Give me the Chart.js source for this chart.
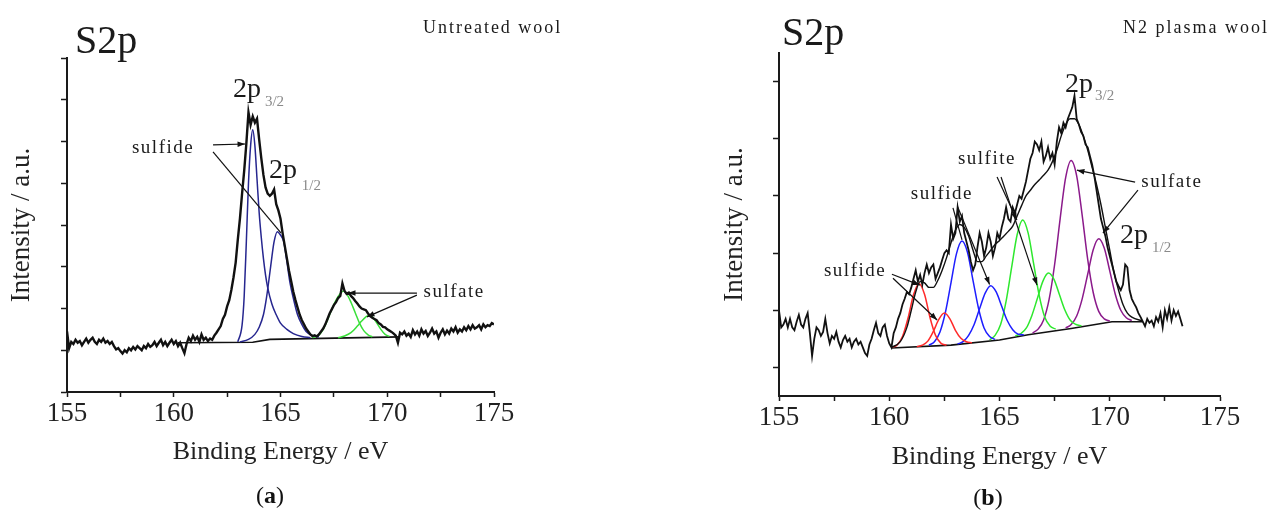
<!DOCTYPE html>
<html>
<head>
<meta charset="utf-8">
<script src="https://cdn.jsdelivr.net/npm/chart.js@4.4.0/dist/chart.umd.min.js"></script>
<style>
  html, body { margin: 0; padding: 0; background: #fff; }
  body { width: 1279px; height: 511px; position: relative; overflow: hidden; font-family: "Liberation Serif", "Times New Roman", serif; }
  canvas { position: absolute; top: 0; }
  #chartA { left: 0; }
  #chartB { left: 640px; }
  .caption { position: absolute; width: 80px; text-align: center; font-size: 24px; line-height: 26px; color: #111; }
</style>
</head>
<body>
<canvas id="chartA" width="640" height="511"></canvas>
<canvas id="chartB" width="639" height="511"></canvas>
<div class="caption" style="left:230px; top:482px;">(<b>a</b>)</div>
<div class="caption" style="left:948px; top:484px;">(<b>b</b>)</div>
<script>
// ---- (a) untreated wool, S2p ----
const energyA = [
  155.0,155.1,155.2,155.3,155.4,155.5,155.6,155.7,155.8,155.9,
  156.0,156.1,156.2,156.3,156.4,156.5,156.6,156.7,156.8,156.9,
  157.0,157.1,157.2,157.3,157.4,157.5,157.6,157.7,157.8,157.9,
  158.0,158.1,158.2,158.3,158.4,158.5,158.6,158.7,158.8,158.9,
  159.0,159.1,159.2,159.3,159.4,159.5,159.6,159.7,159.8,159.9,
  160.0,160.1,160.2,160.3,160.4,160.5,160.6,160.7,160.8,160.9,
  161.0,161.1,161.2,161.3,161.4,161.5,161.6,161.7,161.8,161.9,
  162.0,162.1,162.2,162.3,162.4,162.5,162.6,162.7,162.8,162.9,
  163.0,163.1,163.2,163.3,163.4,163.5,163.6,163.7,163.8,163.9,
  164.0,164.1,164.2,164.3,164.4,164.5,164.6,164.7,164.8,164.9,
  165.0,165.1,165.2,165.3,165.4,165.5,165.6,165.7,165.8,165.9,
  166.0,166.1,166.2,166.3,166.4,166.5,166.6,166.7,166.8,166.9,
  167.0,167.1,167.2,167.3,167.4,167.5,167.6,167.7,167.8,167.9,
  168.0,168.1,168.2,168.3,168.4,168.5,168.6,168.7,168.8,168.9,
  169.0,169.1,169.2,169.3,169.4,169.5,169.6,169.7,169.8,169.9,
  170.0,170.1,170.2,170.3,170.4,170.5,170.6,170.7,170.8,170.9,
  171.0,171.1,171.2,171.3,171.4,171.5,171.6,171.7,171.8,171.9,
  172.0,172.1,172.2,172.3,172.4,172.5,172.6,172.7,172.8,172.9,
  173.0,173.1,173.2,173.3,173.4,173.5,173.6,173.7,173.8,173.9,
  174.0,174.1,174.2,174.3,174.4,174.5,174.6,174.7,174.8,174.9,
  175.0
];
const rawA = [
  1.45,1.05,1.2,1.15,1.25,1.18,1.22,1.12,1.2,1.28,
  1.18,1.25,1.3,1.2,1.15,1.25,1.2,1.28,1.18,1.22,
  1.15,1.2,1.1,1.02,1.05,0.98,0.92,1.0,0.95,1.05,
  1.0,1.08,1.02,1.1,1.05,1.0,1.1,1.05,1.15,1.08,
  1.12,1.2,1.1,1.18,1.25,1.12,1.2,1.1,1.18,1.25,
  1.15,1.22,1.1,1.18,1.05,0.93,1.15,1.3,1.22,1.35,
  1.25,1.32,1.2,1.38,1.25,1.3,1.22,1.28,1.25,1.35,
  1.42,1.5,1.58,1.75,1.85,2.05,2.2,2.45,2.75,3.1,
  3.65,4.15,4.75,5.3,5.95,6.7,6.4,6.6,6.45,6.55,
  6.05,5.6,5.2,4.9,4.75,4.7,4.75,4.85,4.5,4.35,
  4.15,3.8,3.5,3.2,2.9,2.65,2.4,2.2,2.02,1.85,
  1.72,1.62,1.52,1.45,1.38,1.34,1.36,1.33,1.38,1.45,
  1.52,1.62,1.75,1.88,1.98,2.08,2.15,2.25,2.3,2.6,
  2.42,2.35,2.38,2.3,2.25,2.18,2.12,2.05,2.0,1.98,
  1.96,1.88,1.82,1.78,1.75,1.72,1.65,1.62,1.56,1.55,
  1.5,1.47,1.44,1.4,1.35,1.18,1.42,1.38,1.45,1.35,
  1.4,1.32,1.48,1.38,1.45,1.35,1.5,1.4,1.46,1.34,
  1.42,1.52,1.4,1.45,1.3,1.42,1.5,1.38,1.47,1.4,
  1.52,1.45,1.55,1.42,1.5,1.45,1.55,1.48,1.58,1.5,
  1.6,1.52,1.55,1.6,1.5,1.62,1.55,1.6,1.58,1.65,
  1.62
];
const sulfideA1E = [163.0,163.2,163.3,163.4,163.5,163.6,163.7,163.8,163.9,164.0,164.1,164.2,164.3,164.4,164.6,164.8,165.0,165.3,165.6,166.0,166.4];
const sulfideA1 = [1.2,1.6,2.3,3.6,5.0,5.9,6.28,5.9,5.1,4.3,3.7,3.2,2.8,2.5,2.1,1.85,1.65,1.5,1.4,1.33,1.3];
const sulfideA2E = [163.1,163.5,163.8,164.0,164.2,164.35,164.5,164.6,164.7,164.85,165.0,165.15,165.3,165.45,165.6,165.8,166.0,166.2,166.5,166.8];
const sulfideA2 = [1.2,1.26,1.38,1.55,1.85,2.28,2.85,3.25,3.6,3.84,3.76,3.6,3.12,2.6,2.25,1.85,1.62,1.45,1.35,1.32];
const sulfateA1E = [166.5,166.8,167.0,167.2,167.4,167.6,167.8,167.95,168.1,168.3,168.5,168.7,168.9,169.1,169.3];
const sulfateA1 = [1.3,1.36,1.5,1.72,1.98,2.2,2.36,2.42,2.35,2.15,1.9,1.65,1.47,1.37,1.32];
const sulfateA2E = [167.7,168.0,168.3,168.6,168.8,169.0,169.15,169.3,169.5,169.7,169.9,170.1];
const sulfateA2 = [1.3,1.34,1.42,1.58,1.7,1.8,1.84,1.8,1.66,1.5,1.38,1.33];
const baselineAE = [160.2,163.7,164.5,170.6];
const baselineA = [1.18,1.19,1.26,1.32];

// ---- (b) N2 plasma wool, S2p ----
const energyB = [
  155.0,155.1,155.2,155.3,155.4,155.5,155.6,155.7,155.8,155.9,
  156.0,156.1,156.2,156.3,156.4,156.5,156.6,156.7,156.8,156.9,
  157.0,157.1,157.2,157.3,157.4,157.5,157.6,157.7,157.8,157.9,
  158.0,158.1,158.2,158.3,158.4,158.5,158.6,158.7,158.8,158.9,
  159.0,159.1,159.2,159.3,159.4,159.5,159.6,159.7,159.8,159.9,
  160.0,160.1,160.2,160.3,160.4,160.5,160.6,160.7,160.8,160.9,
  161.0,161.1,161.2,161.3,161.4,161.5,161.6,161.7,161.8,161.9,
  162.0,162.1,162.2,162.3,162.4,162.5,162.6,162.7,162.8,162.9,
  163.0,163.1,163.2,163.3,163.4,163.5,163.6,163.7,163.8,163.9,
  164.0,164.1,164.2,164.3,164.4,164.5,164.6,164.7,164.8,164.9,
  165.0,165.1,165.2,165.3,165.4,165.5,165.6,165.7,165.8,165.9,
  166.0,166.1,166.2,166.3,166.4,166.5,166.6,166.7,166.8,166.9,
  167.0,167.1,167.2,167.3,167.4,167.5,167.6,167.7,167.8,167.9,
  168.0,168.1,168.2,168.3,168.4,168.5,168.6,168.7,168.8,168.9,
  169.0,169.1,169.2,169.3,169.4,169.5,169.6,169.7,169.8,169.9,
  170.0,170.1,170.2,170.3,170.4,170.5,170.6,170.7,170.8,170.9,
  171.0,171.1,171.2,171.3,171.4,171.5,171.6,171.7,171.8,171.9,
  172.0,172.1,172.2,172.3,172.4,172.5,172.6,172.7,172.8,172.9,
  173.0,173.1,173.2,173.3
];
const rawB = [
  1.5,1.2,1.25,1.35,1.2,1.35,1.2,1.15,1.3,1.42,
  1.25,1.2,1.35,1.45,1.1,0.7,1.0,1.2,1.15,1.05,
  1.12,1.35,1.1,0.92,1.05,1.0,1.12,0.95,0.85,0.98,
  1.05,0.95,1.0,0.85,0.95,1.0,0.9,0.95,0.85,0.75,
  0.7,0.9,1.0,1.15,1.28,1.1,1.05,1.2,1.25,1.05,
  0.92,0.85,1.1,1.2,1.35,1.45,1.6,1.7,1.82,1.78,
  1.9,2.05,2.2,2.0,2.12,1.95,2.15,2.3,2.15,2.25,
  2.3,2.05,2.15,2.25,2.38,2.5,2.55,2.5,3.0,2.75,
  2.85,3.3,3.05,3.15,2.85,2.7,2.55,2.35,2.2,2.3,
  2.6,2.85,2.7,2.45,2.6,2.85,2.7,2.45,2.6,2.85,
  2.75,2.95,3.1,3.3,3.1,3.05,3.3,3.2,3.35,3.5,
  3.45,3.6,3.75,3.95,4.15,4.25,4.45,4.4,4.3,4.45,
  4.1,4.2,4.35,4.15,4.25,4.05,4.45,4.7,4.6,4.78,
  4.7,4.85,4.95,5.05,5.25,4.85,4.75,4.62,4.55,4.4,
  4.35,4.2,4.05,3.85,3.6,3.35,3.1,2.95,2.8,2.6,
  2.45,2.3,2.15,2.0,1.92,1.85,1.95,2.3,2.25,1.85,
  1.7,1.62,1.55,1.45,1.38,1.3,1.22,1.35,1.28,1.32,
  1.22,1.38,1.3,1.45,1.2,1.5,1.35,1.55,1.32,1.5,
  1.4,1.48,1.35,1.22
];
const envelopeBE = [160.1,160.5,160.8,161.0,
  161.2,161.4,161.6,161.8,162.0,162.2,162.4,162.6,162.8,163.0,
  163.2,163.4,163.6,163.8,164.0,164.2,164.4,164.6,164.8,165.0,
  165.2,165.4,165.6,165.8,166.0,166.2,166.4,166.6,166.8,167.0,
  167.2,167.4,167.6,167.8,168.0,168.2,168.4,168.6,168.8,169.0,
  169.2,169.4,169.6,169.8,170.0,170.2,170.4,170.6,170.8,171.0,
  171.5];
const envelopeB = [0.85,0.95,1.2,1.5,
  1.82,2.0,1.98,1.9,1.9,2.02,2.2,2.42,2.68,2.9,
  3.0,2.95,2.8,2.55,2.35,2.35,2.45,2.55,2.65,2.72,
  2.8,2.88,2.97,3.15,3.33,3.5,3.6,3.7,3.78,3.86,
  3.95,4.1,4.3,4.55,4.75,4.85,4.85,4.75,4.55,4.3,
  4.0,3.7,3.35,2.95,2.55,2.15,1.85,1.6,1.45,1.38,
  1.31];
const sulfideB1E = [160.1,160.35,160.6,160.85,161.1,161.35,161.6,161.85,162.1,162.35,162.6];
const sulfideB1 = [0.85,0.89,1.04,1.36,1.77,1.97,1.78,1.37,1.06,0.92,0.89];
const sulfideB2E = [161.25,161.5,161.75,162.0,162.25,162.5,162.75,163.0,163.25,163.5,163.75];
const sulfideB2 = [0.86,0.89,0.96,1.13,1.34,1.45,1.35,1.15,1.01,0.95,0.93];
const sulfideB3E = [161.8,162.05,162.3,162.55,162.8,163.05,163.3,163.55,163.8,164.05,164.3,164.55,164.8];
const sulfideB3 = [0.89,0.95,1.12,1.47,1.98,2.49,2.71,2.51,2.02,1.53,1.19,1.04,0.99];
const sulfideB4E = [163.1,163.35,163.6,163.85,164.1,164.35,164.6,164.85,165.1,165.35,165.6,165.85,166.1];
const sulfideB4 = [0.91,0.95,1.06,1.25,1.53,1.8,1.93,1.82,1.57,1.32,1.16,1.08,1.07];
const sulfiteB1E = [164.55,164.8,165.05,165.3,165.55,165.8,166.05,166.3,166.55,166.8,167.05,167.3,167.55];
const sulfiteB1 = [0.98,1.06,1.25,1.66,2.25,2.82,3.08,2.85,2.31,1.76,1.38,1.22,1.17];
const sulfiteB2E = [165.72,165.97,166.22,166.47,166.72,166.97,167.22,167.47,167.72,167.97,168.22,168.47,168.72];
const sulfiteB2 = [1.05,1.09,1.19,1.41,1.71,2.01,2.15,2.04,1.77,1.5,1.32,1.25,1.23];
const sulfateB1E = [166.5,166.75,167.0,167.25,167.5,167.75,168.0,168.25,168.5,168.75,169.0,169.25,169.5,169.75,170.0];
const sulfateB1 = [1.1,1.17,1.33,1.69,2.3,3.1,3.82,4.12,3.85,3.16,2.39,1.81,1.48,1.35,1.31];
const sulfateB2E = [168.0,168.25,168.5,168.75,169.0,169.25,169.5,169.75,170.0,170.25,170.5,170.75,171.0];
const sulfateB2 = [1.19,1.25,1.4,1.7,2.13,2.56,2.75,2.59,2.19,1.78,1.5,1.37,1.32];
const baselineBE = [160.1,162.8,165.0,166.3,168.25,170.1,171.5];
const baselineB = [0.84,0.89,0.98,1.07,1.18,1.3,1.3];

// axis ticks (no numbers on the intensity axis)
const yTicksA = [0, 1, 2, 3, 4, 5, 6, 7, 8];
const yTicksB = [0.5, 1.5, 2.5, 3.5, 4.5, 5.5];
const xLabelled = [155, 160, 165, 170, 175];

const SERIF = '"Liberation Serif", "Times New Roman", serif';
Chart.defaults.font.family = SERIF;
Chart.defaults.color = '#222';

const xy = (xs, ys) => xs.map((x, i) => ({ x: x, y: ys[i] }));

function raw(xs, ys, w) {
  return { data: xy(xs, ys), borderColor: '#111', borderWidth: w, tension: 0 };
}
function smooth(xs, ys, color, w) {
  return { data: xy(xs, ys), borderColor: color, borderWidth: w || 1.5, cubicInterpolationMode: 'monotone' };
}

// texts and arrows placed in data units
const notesPlugin = {
  id: 'notes',
  afterDatasetsDraw(chart, args, opts) {
    const { ctx, scales: { x, y } } = chart;
    ctx.save();
    (opts.arrows || []).forEach(a => {
      const x0 = x.getPixelForValue(a.from[0]), y0 = y.getPixelForValue(a.from[1]);
      const x1 = x.getPixelForValue(a.to[0]), y1 = y.getPixelForValue(a.to[1]);
      ctx.strokeStyle = '#111';
      ctx.fillStyle = '#111';
      ctx.lineWidth = 1.2;
      ctx.beginPath();
      ctx.moveTo(x0, y0);
      ctx.lineTo(x1, y1);
      ctx.stroke();
      if (a.head) {
        const ang = Math.atan2(y1 - y0, x1 - x0);
        ctx.beginPath();
        ctx.moveTo(x1, y1);
        ctx.lineTo(x1 - 8 * Math.cos(ang - 0.35), y1 - 8 * Math.sin(ang - 0.35));
        ctx.lineTo(x1 - 8 * Math.cos(ang + 0.35), y1 - 8 * Math.sin(ang + 0.35));
        ctx.closePath();
        ctx.fill();
      }
    });
    (opts.texts || []).forEach(t => {
      ctx.font = t.size + 'px ' + SERIF;
      ctx.fillStyle = t.color || '#1a1a1a';
      ctx.letterSpacing = t.spacing || '0px';
      ctx.textAlign = t.align || 'left';
      ctx.textBaseline = 'alphabetic';
      ctx.fillText(t.text, x.getPixelForValue(t.at[0]), y.getPixelForValue(t.at[1]));
    });
    ctx.restore();
  }
};

function makeScales(yMax, yTicks, yWidth, xHeight) {
  return {
    x: {
      type: 'linear', min: 155, max: 175,
      border: { color: '#1a1a1a', width: 2 },
      grid: { drawOnChartArea: false, tickLength: 5, color: '#1a1a1a', tickWidth: 1.5 },
      ticks: {
        stepSize: 2.5, autoSkip: false, maxRotation: 0, padding: 1,
        font: { size: 27 }, color: '#222',
        callback: v => xLabelled.includes(v) ? String(v) : ''
      },
      title: { display: true, text: 'Binding Energy / eV', font: { size: 26 }, color: '#222', padding: 0 },
      afterFit: s => { s.height = xHeight; }
    },
    y: {
      type: 'linear', min: 0, max: yMax,
      border: { color: '#1a1a1a', width: 2 },
      grid: { drawOnChartArea: false, tickLength: 6, color: '#1a1a1a', tickWidth: 1.5 },
      ticks: { display: false },
      afterBuildTicks: s => { s.ticks = yTicks.map(v => ({ value: v })); },
      title: { display: true, text: 'Intensity / a.u.', font: { size: 27 }, color: '#222', padding: { top: 6, bottom: 0 } },
      afterFit: s => { s.width = yWidth; }
    }
  };
}

function baseOptions(padding, scales, notes) {
  return {
    responsive: false,
    animation: false,
    showLine: true,
    layout: { padding: padding },
    elements: { point: { radius: 0, hoverRadius: 0 } },
    plugins: { legend: { display: false }, tooltip: { enabled: false }, notes: notes },
    scales: scales
  };
}

const blueA = '#26268f';
const greenA = '#3ae03a';

new Chart(document.getElementById('chartA'), {
  type: 'scatter',
  data: {
    datasets: [
      raw(energyA, rawA, 2.4),
      smooth(sulfideA1E, sulfideA1, blueA),
      smooth(sulfideA2E, sulfideA2, blueA),
      smooth(sulfateA1E, sulfateA1, greenA),
      smooth(sulfateA2E, sulfateA2, greenA),
      { data: xy(baselineAE, baselineA), borderColor: '#111', borderWidth: 1.6, tension: 0 }
    ]
  },
  options: baseOptions(
    { top: 58, left: 0, right: 146, bottom: 43 },
    makeScales(8, yTicksA, 67, 76),
    {
      texts: [
        { text: 'S2p', at: [155.37, 8.12], size: 40 },
        { text: 'Untreated wool', at: [171.67, 8.6], size: 18, spacing: '2px' },
        { text: '2p', at: [162.78, 7.07], size: 28 },
        { text: '3/2', at: [164.27, 6.85], size: 15, color: '#8a8a8a' },
        { text: '2p', at: [164.46, 5.13], size: 28 },
        { text: '1/2', at: [166.0, 4.84], size: 15, color: '#8a8a8a' },
        { text: 'sulfide', at: [159.5, 5.72], size: 19, spacing: '1.5px', align: 'center' },
        { text: 'sulfate', at: [173.13, 2.28], size: 19, spacing: '1.5px', align: 'center' }
      ],
      arrows: [
        { from: [161.84, 5.92], to: [163.34, 5.94], head: true },
        { from: [161.84, 5.75], to: [165.02, 3.81], head: false },
        { from: [171.39, 2.37], to: [168.16, 2.37], head: true },
        { from: [171.39, 2.32], to: [169.05, 1.8], head: true }
      ]
    }
  ),
  plugins: [notesPlugin]
});

new Chart(document.getElementById('chartB'), {
  type: 'scatter',
  data: {
    datasets: [
      raw(energyB, rawB, 1.8),
      { data: xy(envelopeBE, envelopeB), borderColor: '#111', borderWidth: 1.4, cubicInterpolationMode: 'monotone' },
      smooth(sulfideB1E, sulfideB1, '#ff2a2a'),
      smooth(sulfideB2E, sulfideB2, '#ff2a2a'),
      smooth(sulfideB3E, sulfideB3, '#1e1eff'),
      smooth(sulfideB4E, sulfideB4, '#1e1eff'),
      smooth(sulfiteB1E, sulfiteB1, '#2ee82e'),
      smooth(sulfiteB2E, sulfiteB2, '#2ee82e'),
      smooth(sulfateB1E, sulfateB1, '#8b1a8b'),
      smooth(sulfateB2E, sulfateB2, '#8b1a8b'),
      { data: xy(baselineBE, baselineB), borderColor: '#111', borderWidth: 1.6, tension: 0 }
    ]
  },
  options: baseOptions(
    { top: 53, left: 73, right: 59, bottom: 38 },
    makeScales(6, yTicksB, 66, 77),
    {
      texts: [
        { text: 'S2p', at: [155.14, 6.14], size: 40 },
        { text: 'N2 plasma wool', at: [170.6, 6.35], size: 18, spacing: '2px' },
        { text: '2p', at: [167.97, 5.32], size: 28 },
        { text: '3/2', at: [169.33, 5.18], size: 15, color: '#8a8a8a' },
        { text: '2p', at: [170.46, 2.68], size: 28 },
        { text: '1/2', at: [171.92, 2.52], size: 15, color: '#8a8a8a' },
        { text: 'sulfate', at: [172.82, 3.66], size: 19, spacing: '1.5px', align: 'center' },
        { text: 'sulfite', at: [164.43, 4.06], size: 19, spacing: '1.5px', align: 'center' },
        { text: 'sulfide', at: [162.39, 3.45], size: 19, spacing: '1.5px', align: 'center' },
        { text: 'sulfide', at: [158.45, 2.1], size: 19, spacing: '1.5px', align: 'center' }
      ],
      arrows: [
        { from: [171.15, 3.74], to: [168.51, 3.95], head: true },
        { from: [171.28, 3.6], to: [169.69, 2.85], head: true },
        { from: [164.89, 3.83], to: [165.79, 3.08], head: true },
        { from: [165.07, 3.83], to: [166.7, 1.94], head: true },
        { from: [162.89, 3.29], to: [163.3, 2.73], head: false },
        { from: [163.1, 3.31], to: [164.55, 1.95], head: true },
        { from: [160.12, 2.13], to: [161.39, 1.94], head: true },
        { from: [160.17, 2.06], to: [162.17, 1.33], head: true }
      ]
    }
  ),
  plugins: [notesPlugin]
});
</script>
</body>
</html>
